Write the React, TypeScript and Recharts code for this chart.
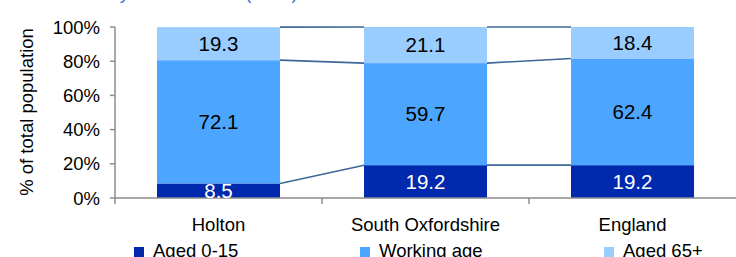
import React from 'react';
import { BarChart, Bar, XAxis, YAxis, LabelList } from 'recharts';

// population share by age band (%)
const categories = ['Holton', 'South Oxfordshire', 'England'];
const aged0to15 = [8.5, 19.2, 19.2];
const workingAge = [72.1, 59.7, 62.4];
const aged65plus = [19.3, 21.1, 18.4];
const yTicks = [0, 20, 40, 60, 80, 100];

const SERIES = [
  { key: 'young', name: 'Aged 0-15', values: aged0to15, color: '#0029ad', label: '#ffffff' },
  { key: 'working', name: 'Working age', values: workingAge, color: '#4ca6ff', label: '#000000' },
  { key: 'old', name: 'Aged 65+', values: aged65plus, color: '#99ccff', label: '#000000' },
];

const data = categories.map((name, i) => ({
  name,
  young: aged0to15[i],
  working: workingAge[i],
  old: aged65plus[i],
}));

const WIDTH = 736;
const HEIGHT = 257;
const Y_AXIS_W = 115;
const X_AXIS_H = 59;
const GAP = 0.203; // per-side category gap
const FONT = '"Liberation Sans", Arial, sans-serif';
const LINE_COLOR = '#3d6699';
const AXIS_COLOR = '#8c8c8c';
const TICK_SIZE = 5;
const TICK_MARGIN = 15;
const HALF_BAND = (WIDTH - Y_AXIS_W) / categories.length / 2;

// bar rect plus the Excel-style series line to the next bar
const makeShape = (s: number) => (props: any) => {
  const { x, y, width, height, index, fill } = props;
  const val = SERIES[s].values[index];
  const px = height / val;
  let below = 0;
  for (let k = 0; k < s; k++) below += SERIES[k].values[index];
  const base = y + height + below * px;
  let line = null;
  if (index < categories.length - 1) {
    let topNext = 0;
    for (let k = 0; k <= s; k++) topNext += SERIES[k].values[index + 1];
    const band = width / (1 - 2 * GAP);
    line = (
      <line
        x1={x + width}
        y1={y}
        x2={x + band}
        y2={base - topNext * px}
        stroke={LINE_COLOR}
        strokeWidth={1.6}
      />
    );
  }
  return (
    <g>
      <rect x={x} y={y} width={width} height={height} fill={fill} />
      {line}
    </g>
  );
};

// category label, with the tick mark placed between categories (Excel style)
const renderCategoryTick = (props: any) => {
  const { x, y, payload } = props;
  const axisY = HEIGHT - X_AXIS_H;
  return (
    <g>
      <line
        x1={x - HALF_BAND}
        x2={x - HALF_BAND}
        y1={axisY}
        y2={axisY + TICK_SIZE + 1}
        stroke={AXIS_COLOR}
        strokeWidth={1.5}
      />
      <text x={x} y={y} dy="0.71em" textAnchor="middle" fill="#000" fontSize={18.5} fontFamily={FONT}>
        {payload.value}
      </text>
    </g>
  );
};

export default function App() {
  return (
    <div
      style={{
        position: 'fixed',
        left: 0,
        top: 0,
        width: WIDTH,
        height: HEIGHT,
        overflow: 'hidden',
        background: '#fff',
        fontFamily: FONT,
      }}
    >
      <BarChart
        width={WIDTH}
        height={HEIGHT}
        data={data}
        margin={{ top: 27, right: 0, bottom: 0, left: 0 }}
        barCategoryGap={`${GAP * 100}%`}
      >
        <text x={15} y={-1} fill="#3f6fd6" fontSize={18.5} fontFamily={FONT}>
          Source: Mid-year estimates (ONS) 2010
        </text>
        <text
          x={0}
          y={0}
          transform="translate(33, 112) rotate(-90)"
          textAnchor="middle"
          fontSize={18.5}
          fontFamily={FONT}
          fill="#000"
        >
          % of total population
        </text>
        <XAxis
          dataKey="name"
          height={X_AXIS_H}
          tickLine={false}
          tickSize={TICK_SIZE}
          tickMargin={TICK_MARGIN}
          axisLine={{ stroke: AXIS_COLOR, strokeWidth: 1.5 }}
          tick={renderCategoryTick}
        />
        <YAxis
          width={Y_AXIS_W}
          domain={[0, 100]}
          ticks={yTicks}
          tickFormatter={(v: number) => `${v}%`}
          tickSize={5}
          tickMargin={10}
          axisLine={{ stroke: AXIS_COLOR, strokeWidth: 1.5 }}
          tickLine={{ stroke: AXIS_COLOR, strokeWidth: 1.5 }}
          tick={{ fill: '#000', fontSize: 18.5, fontFamily: FONT }}
        />
        {SERIES.map((s, i) => (
          <Bar
            key={s.key}
            dataKey={s.key}
            name={s.name}
            stackId="a"
            fill={s.color}
            shape={makeShape(i)}
            isAnimationActive={false}
          >
            <LabelList
              dataKey={s.key}
              position="center"
              fill={s.label}
              fontSize={20.5}
              fontFamily={FONT}
              formatter={(v: any) => Number(v).toFixed(1)}
            />
          </Bar>
        ))}
      </BarChart>
      {SERIES.map((s, i) => (
        <div
          key={s.key}
          style={{
            position: 'absolute',
            top: 242,
            left: [134, 360, 604][i],
            height: 18,
            lineHeight: '18px',
            fontSize: 18.5,
            whiteSpace: 'nowrap',
            color: '#000',
          }}
        >
          <span
            style={{
              display: 'inline-block',
              width: 10,
              height: 10,
              background: s.color,
              marginRight: 9,
            }}
          />
          {s.name}
        </div>
      ))}
    </div>
  );
}
